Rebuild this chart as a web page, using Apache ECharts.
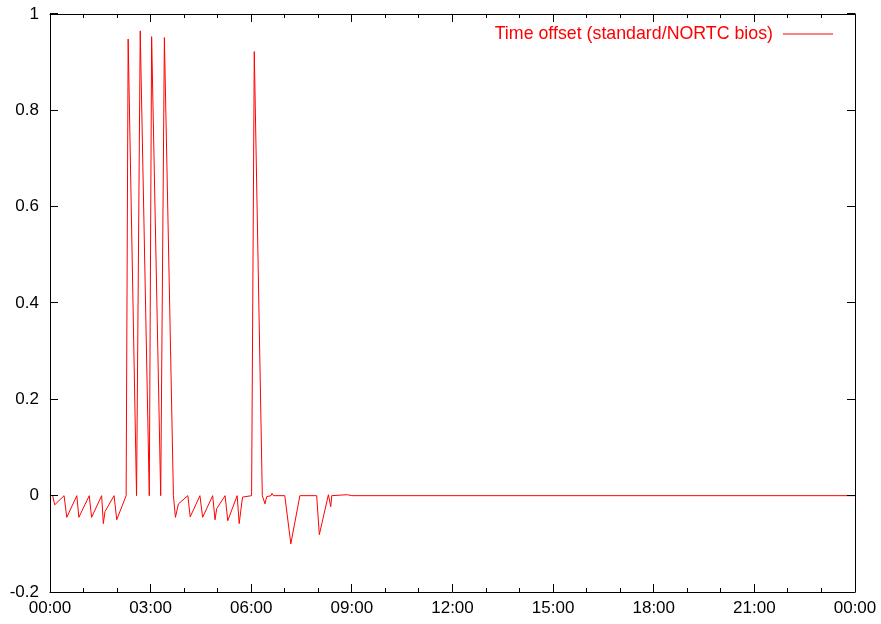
<!DOCTYPE html>
<html>
<head>
<meta charset="utf-8">
<script src="https://cdn.jsdelivr.net/npm/echarts@6/dist/echarts.min.js"></script>
<style>html,body{margin:0;padding:0;background:#fff;}#c{width:881px;height:624px;}</style>
</head>
<body>
<div id="c"></div>
<script>
var seriesName = 'Time offset (standard/NORTC bios)';
var xTickLabels = ['00:00','03:00','06:00','09:00','12:00','15:00','18:00','21:00','00:00'];
var xTickHours = [0,1,2,3,4,5,6,7,8,9,10,11,12,13,14,15,16,17,18,19,20,21,22,23,24];
var yTickValues = [-0.2,0,0.2,0.4,0.6,0.8,1];
var timesHours = [0.08,0.14,0.42,0.50,0.80,0.86,1.17,1.24,1.54,1.59,1.64,1.91,1.99,2.27,2.33,2.58,2.69,2.96,3.03,3.30,3.41,3.68,3.74,3.83,4.11,4.18,4.47,4.55,4.85,4.92,4.97,5.22,5.30,5.58,5.64,5.74,6.01,6.09,6.33,6.41,6.46,6.59,6.62,6.66,7.00,7.18,7.45,7.95,8.03,8.30,8.37,8.40,8.86,9.00,24.0];
var offsets = [0,-0.019,0,-0.045,0,-0.045,0,-0.045,0,-0.058,-0.033,0,-0.05,0,0.948,0,0.965,0,0.953,0,0.951,0,-0.045,-0.017,0,-0.044,0,-0.045,0,-0.05,-0.027,0,-0.052,0,-0.058,-0.003,0,0.922,0,-0.017,-0.002,0,0.005,0,0,-0.1,0,0,-0.081,0.002,-0.023,0,0.002,0,0];

var X_MIN = 0, X_MAX = 24, Y_MIN = -0.2, Y_MAX = 1;
var data = timesHours.map(function(t, i){ return [t, offsets[i]]; });
var xTickData = xTickHours.map(function(h){ return [h, Y_MIN]; });
var yTickData = yTickValues.map(function(v){ return [X_MIN, v]; });
var font = 'Liberation Sans, Arial, sans-serif';
var tickStyle = {stroke:'#000', lineWidth:1};
function crisp(v){ return Math.round(v - 0.5) + 0.5; }

function renderXTick(params, api){
  var h = api.value(0);
  var pb = api.coord([h, Y_MIN]);
  var pt = api.coord([h, Y_MAX]);
  var len = (h % 3 === 0) ? 8 : 4;
  var x = crisp(pb[0]);
  return {type:'group', children:[
    {type:'line', shape:{x1:x, y1:pb[1], x2:x, y2:pb[1]-len}, style:tickStyle},
    {type:'line', shape:{x1:x, y1:pt[1], x2:x, y2:pt[1]+len}, style:tickStyle}
  ]};
}
function renderYTick(params, api){
  var v = api.value(1);
  var pl = api.coord([X_MIN, v]);
  var pr = api.coord([X_MAX, v]);
  var y = crisp(pl[1]);
  return {type:'group', children:[
    {type:'line', shape:{x1:pl[0], y1:y, x2:pl[0]+8, y2:y}, style:tickStyle},
    {type:'line', shape:{x1:pr[0], y1:y, x2:pr[0]-8, y2:y}, style:tickStyle}
  ]};
}

function axLine(){ return {show:true, onZero:false, lineStyle:{color:'#000', width:1}}; }
var chart = echarts.init(document.getElementById('c'), null, {renderer:'canvas'});
chart.setOption({
  animation:false,
  grid:{left:50, right:26, top:14, bottom:32},
  legend:{
    right:43, top:20,
    align:'right',
    itemWidth:50, itemHeight:1, itemGap:0,
    icon:'rect',
    textStyle:{color:'#ff0000', fontSize:17.8, fontFamily:font, padding:[0,5,0,0]},
    data:[{name:seriesName, itemStyle:{color:'#ff0000'}}]
  },
  xAxis:[{
    type:'value', min:X_MIN, max:X_MAX, interval:3, position:'bottom',
    axisLine:axLine(), axisTick:{show:false}, minorTick:{show:false},
    splitLine:{show:false},
    axisLabel:{show:true, color:'#000', fontSize:17, fontFamily:font, margin:8,
      formatter:function(v){ return xTickLabels[Math.round(v/3)]; }}
  },{
    type:'value', min:X_MIN, max:X_MAX, interval:3, position:'top',
    axisLine:axLine(), axisTick:{show:false},
    splitLine:{show:false},
    axisLabel:{show:false}
  }],
  yAxis:[{
    type:'value', min:Y_MIN, max:Y_MAX, interval:0.2, position:'left',
    axisLine:axLine(), axisTick:{show:false},
    splitLine:{show:false},
    axisLabel:{show:true, color:'#000', fontSize:17, fontFamily:font, margin:11}
  },{
    type:'value', min:Y_MIN, max:Y_MAX, interval:0.2, position:'right',
    axisLine:axLine(), axisTick:{show:false},
    splitLine:{show:false},
    axisLabel:{show:false}
  }],
  series:[{
    name:seriesName,
    type:'line',
    data:data,
    showSymbol:false,
    symbol:'none',
    lineStyle:{color:'#ff0000', width:1},
    itemStyle:{color:'#ff0000'}
  },{
    name:'xticks', type:'custom', silent:true, clip:false, z:5,
    encode:{x:0, y:1},
    data:xTickData, renderItem:renderXTick
  },{
    name:'yticks', type:'custom', silent:true, clip:false, z:5,
    encode:{x:0, y:1},
    data:yTickData, renderItem:renderYTick
  }]
});
</script>
</body>
</html>
